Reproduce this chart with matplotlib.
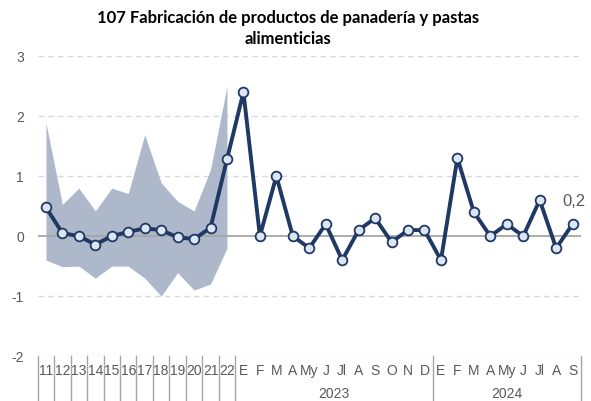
import matplotlib.pyplot as plt
import matplotlib.transforms as mtransforms

plt.rcParams['font.family'] = ['Liberation Sans Narrow', 'Liberation Sans', 'DejaVu Sans']

# etiquetas del eje x
etiquetas = ["11", "12", "13", "14", "15", "16", "17", "18", "19", "20", "21", "22",
             "E", "F", "M", "A", "My", "J", "Jl", "A", "S", "O", "N", "D",
             "E", "F", "M", "A", "My", "J", "Jl", "A", "S"]
anios = ["2023", "2024"]

# variación
valores = [0.48, 0.05, 0.0, -0.14, 0.0, 0.07, 0.13, 0.1, -0.02, -0.05, 0.14, 1.28,
           2.4, 0.0, 1.0, 0.0, -0.2, 0.2, -0.4, 0.1, 0.3, -0.1, 0.1, 0.1,
           -0.4, 1.3, 0.4, 0.0, 0.2, 0.0, 0.6, -0.2, 0.2]

# rango histórico (solo años 11-22)
banda_sup = [1.89, 0.53, 0.8, 0.42, 0.8, 0.71, 1.69, 0.89, 0.58, 0.42, 1.11, 2.5]
banda_inf = [-0.4, -0.51, -0.5, -0.7, -0.5, -0.5, -0.7, -1.0, -0.61, -0.9, -0.8, -0.2]

azul = '#1F3864'
gris = '#595959'

fig = plt.figure(figsize=(5.91, 4.01), dpi=100)
ax = fig.add_axes([0.0638, 0.112, 0.919, 0.748])

x = list(range(len(valores)))
xb = x[:len(banda_sup)]

ax.fill_between(xb, banda_inf, banda_sup, color='#ADB9CA', linewidth=0, zorder=1)
ax.plot(x, valores, color=azul, linewidth=2.8, marker='o', markersize=7,
        markerfacecolor='#DCE6F2', markeredgecolor=azul, markeredgewidth=1.3, zorder=3)

ax.set_xlim(-0.5, len(valores) - 0.5)
ax.set_ylim(-2, 3)
ax.set_yticks([-2, -1, 0, 1, 2, 3])
ax.set_yticklabels(["-2", "-1", "0", "1", "2", "3"], fontsize=10, color=gris)
ax.tick_params(axis='y', length=0, pad=10)
ax.set_xticks([])
for s in ax.spines.values():
    s.set_visible(False)

for yv in [-2, -1, 1, 2, 3]:
    ax.axhline(yv, color='#D9D9D9', linewidth=1, linestyle=(0, (4, 3)), zorder=0)
ax.axhline(0, color='#A6A6A6', linewidth=1.3, zorder=2)

# etiqueta último valor
ax.annotate(f"{valores[-1]:.1f}".replace('.', ','), (x[-1], valores[-1]),
            xytext=(1, 11), textcoords='offset points', ha='center', va='bottom',
            fontsize=12, color=gris, family=['Liberation Sans', 'DejaVu Sans'])

# eje de categorías
trans = mtransforms.blended_transform_factory(ax.transData, ax.transAxes)
for i, lab in enumerate(etiquetas):
    ax.text(i, -0.05, lab, transform=trans, ha='center', va='center',
            fontsize=10, color=gris)

sep_color = '#A6A6A6'
for i in range(13):
    ax.plot([i - 0.5, i - 0.5], [0, -0.15], transform=trans, color=sep_color,
            linewidth=1, clip_on=False)
for i in [24, 33]:
    ax.plot([i - 0.5, i - 0.5], [0, -0.15], transform=trans, color=sep_color,
            linewidth=1, clip_on=False)

ax.text(17.5, -0.127, anios[0], transform=trans, ha='center', va='center',
        fontsize=10, color=gris)
ax.text(28, -0.127, anios[1], transform=trans, ha='center', va='center',
        fontsize=10, color=gris)

fig.text(0.487, 0.975, "107 Fabricación de productos de panadería y pastas\nalimenticias",
         ha='center', va='top', fontsize=12, fontweight='bold', color='black',
         family=['Lato', 'DejaVu Sans'], linespacing=1.4)

fig.savefig('out.png', dpi=100)
